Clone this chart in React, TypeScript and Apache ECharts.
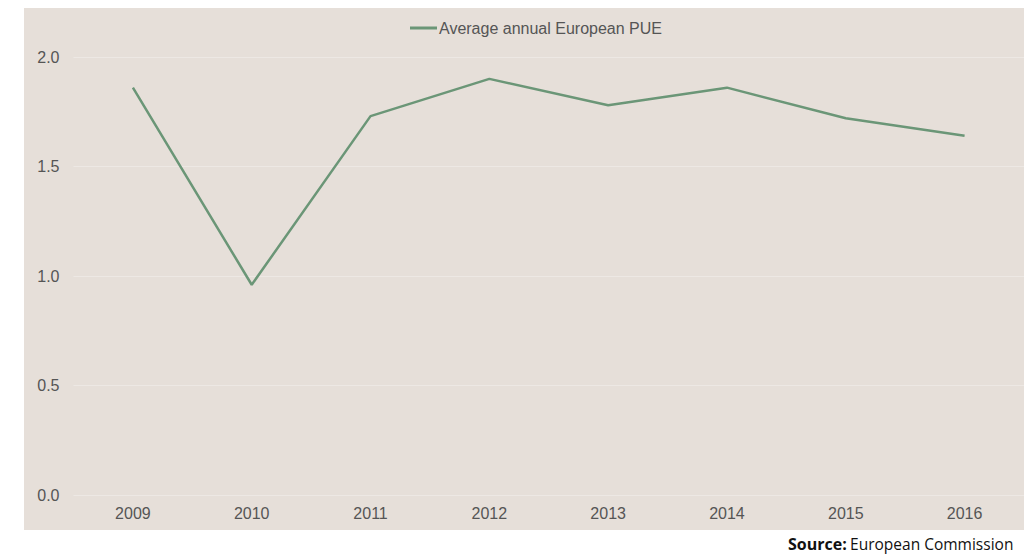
import React, { useEffect, useRef } from "react";
import * as echarts from "echarts";

const years = ["2009", "2010", "2011", "2012", "2013", "2014", "2015", "2016"];
const pue = [1.86, 0.96, 1.73, 1.9, 1.78, 1.86, 1.72, 1.64];
const seriesName = "Average annual European PUE";

const FONT = "'Liberation Sans', Arial, sans-serif";

export default function App() {
  const ref = useRef<HTMLDivElement>(null);
  useEffect(() => {
    const chart = echarts.init(ref.current!, null, { renderer: "svg" });
    chart.setOption({
      animation: false,
      backgroundColor: "#ffffff",
      graphic: [
        {
          type: "rect",
          z: -10,
          shape: { x: 24, y: 8, width: 1000, height: 522 },
          style: { fill: "#e6dfd9" },
          silent: true,
        },
        {
          type: "text",
          left: 788,
          top: 536,
          style: {
            text: "{b|Source:} {n|European Commission}",
            rich: {
              b: { fontFamily: "'Open Sans', sans-serif", fontWeight: "bold", fontSize: 16, fill: "#111" },
              n: { fontFamily: "'Open Sans', sans-serif", fontSize: 15.5, fill: "#111" },
            },
          },
        },
      ],
      legend: {
        data: [{ name: seriesName, icon: "rect" }],
        left: 405,
        top: 15,
        itemWidth: 27,
        itemHeight: 3,
        textStyle: { fontFamily: FONT, fontSize: 16, color: "#555", padding: [0, 0, 0, -3] },
      },
      grid: { left: 73.5, right: -1.5, top: 57, bottom: 59, containLabel: false },
      xAxis: {
        type: "category",
        data: years,
        boundaryGap: true,
        axisLine: { show: false },
        axisTick: { show: false },
        axisLabel: { fontFamily: FONT, fontSize: 16, color: "#555", margin: 10 },
      },
      yAxis: {
        type: "value",
        min: 0,
        max: 2,
        interval: 0.5,
        axisLine: { show: false },
        axisTick: { show: false },
        splitLine: { lineStyle: { color: "#ede8e4", width: 1 } },
        axisLabel: {
          fontFamily: FONT,
          fontSize: 16,
          color: "#555",
          margin: 14,
          formatter: (v: number) => v.toFixed(1),
        },
      },
      series: [
        {
          name: seriesName,
          type: "line",
          data: pue,
          showSymbol: false,
          symbol: "none",
          lineStyle: { color: "#6b9677", width: 2.5 },
          itemStyle: { color: "#6b9677" },
        },
      ],
    });
    return () => chart.dispose();
  }, []);
  return (
    <div
      ref={ref}
      style={{ position: "fixed", left: 0, top: 0, width: 1024, height: 554 }}
    />
  );
}
